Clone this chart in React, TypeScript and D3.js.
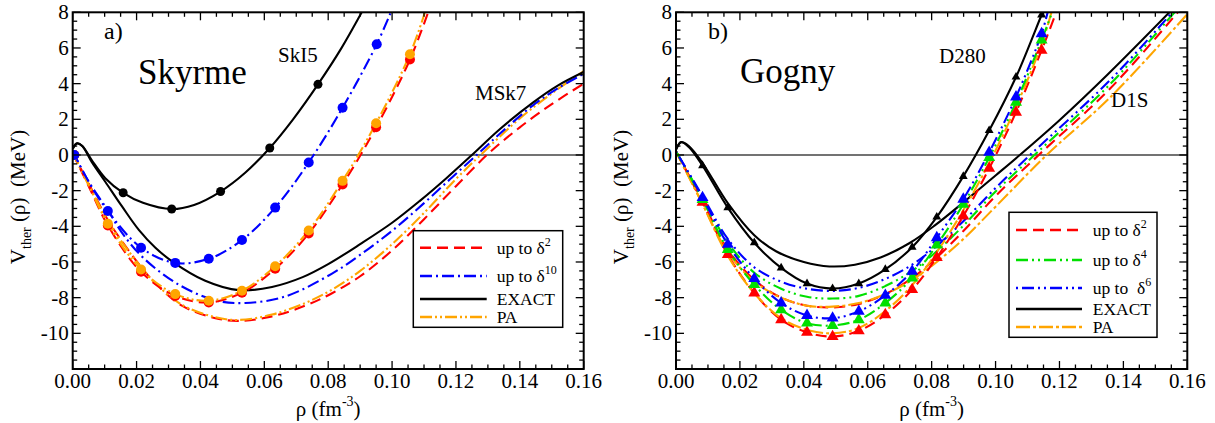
import React from "react";
import * as d3 from "d3";

type Pt = [number, number];

// ---------- Tick data ----------
const xMajorTicks = [0, 0.02, 0.04, 0.06, 0.08, 0.1, 0.12, 0.14, 0.16];
const xTickLabels = ["0.00", "0.02", "0.04", "0.06", "0.08", "0.10", "0.12", "0.14", "0.16"];
const yMajorTicks = [-10, -8, -6, -4, -2, 0, 2, 4, 6, 8];
const yTickLabels = ["-10", "-8", "-6", "-4", "-2", "0", "2", "4", "6", "8"];
const xDomain: [number, number] = [0, 0.16];
const yDomain: [number, number] = [-12, 8];

// ---------- Panel a) Skyrme ----------
// SkI5
const skI5Exact: Pt[] = [[0,0.35],[0.0013,0.65],[0.003,0.5],[0.006,-0.3],[0.0102,-1.3],[0.0158,-2.12],[0.022,-2.68],[0.031,-3.03],[0.038,-2.8],[0.0463,-2.05],[0.054,-1.0],[0.0617,0.39],[0.069,2.0],[0.0768,3.96],[0.084,5.95],[0.0905,8.0]];
const skI5ExactMarks: Pt[] = [[0.0158,-2.12],[0.031,-3.03],[0.0463,-2.05],[0.0617,0.39],[0.0768,3.96]];
const skI5D10: Pt[] = [[0,0.2],[0.005,-1.5],[0.011,-3.14],[0.0214,-5.2],[0.0321,-6.05],[0.0426,-5.82],[0.053,-4.77],[0.0634,-2.95],[0.0739,-0.42],[0.0845,2.65],[0.0952,6.21],[0.0996,8]];
const skI5D10Marks: Pt[] = [[0.0005,0],[0.011,-3.14],[0.0214,-5.2],[0.0321,-6.05],[0.0426,-5.82],[0.053,-4.77],[0.0634,-2.95],[0.0739,-0.42],[0.0845,2.65],[0.0952,6.21]];
const skI5D2: Pt[] = [[0,0.1],[0.005,-1.75],[0.011,-3.95],[0.0214,-6.55],[0.0321,-7.9],[0.0426,-8.27],[0.053,-7.72],[0.0634,-6.38],[0.0739,-4.4],[0.0845,-1.65],[0.095,1.55],[0.1056,5.35],[0.1113,8]];
const skI5D2Marks: Pt[] = [[0.0005,0],[0.011,-3.95],[0.0214,-6.55],[0.0321,-7.9],[0.0426,-8.27],[0.053,-7.72],[0.0634,-6.38],[0.0739,-4.4],[0.0845,-1.65],[0.095,1.55],[0.1056,5.35]];
const skI5PA: Pt[] = [[0,0.1],[0.005,-1.7],[0.011,-3.85],[0.0214,-6.42],[0.0321,-7.8],[0.0426,-8.17],[0.053,-7.61],[0.0634,-6.24],[0.0739,-4.23],[0.0845,-1.45],[0.095,1.78],[0.1056,5.65],[0.1103,8]];
const skI5PAMarks: Pt[] = [[0.0005,0],[0.011,-3.85],[0.0214,-6.42],[0.0321,-7.8],[0.0426,-8.17],[0.053,-7.61],[0.0634,-6.24],[0.0739,-4.23],[0.0845,-1.45],[0.095,1.78],[0.1056,5.65]];
// MSk7
const msk7Exact: Pt[] = [[0,0.35],[0.0015,0.66],[0.003,0.5],[0.006,-0.4],[0.0102,-1.5],[0.0155,-2.9],[0.0207,-4.2],[0.0259,-5.2],[0.0311,-5.96],[0.0415,-7.05],[0.052,-7.58],[0.0624,-7.4],[0.072,-6.85],[0.08,-6.12],[0.09,-5.0],[0.1,-3.8],[0.1087,-2.57],[0.117,-1.3],[0.125,0],[0.1338,1.46],[0.1442,2.95],[0.152,3.9],[0.16,4.65]];
const msk7D10: Pt[] = [[0,0.2],[0.005,-1.5],[0.011,-3.1],[0.0154,-4.35],[0.022,-5.75],[0.0332,-7.27],[0.0447,-8.15],[0.054,-8.3],[0.0666,-7.93],[0.0812,-6.65],[0.09,-5.6],[0.1,-4.25],[0.11,-2.7],[0.1185,-1.3],[0.1265,0],[0.1338,1.2],[0.1442,2.8],[0.152,3.75],[0.16,4.55]];
const msk7D2: Pt[] = [[0,0.1],[0.005,-1.6],[0.011,-3.65],[0.0155,-4.85],[0.0215,-6.3],[0.0259,-7.2],[0.0342,-8.45],[0.0447,-9.15],[0.052,-9.3],[0.0624,-9.05],[0.0728,-8.45],[0.0812,-7.75],[0.09,-6.8],[0.1,-5.35],[0.11,-3.6],[0.12,-1.75],[0.13,0.05],[0.14,1.55],[0.15,2.85],[0.16,4.0]];
const msk7PA: Pt[] = [[0,0.1],[0.005,-1.65],[0.011,-3.7],[0.0155,-4.9],[0.0215,-6.3],[0.0259,-7.2],[0.0342,-8.4],[0.0447,-9.1],[0.052,-9.25],[0.0624,-8.95],[0.0728,-8.3],[0.0812,-7.55],[0.09,-6.5],[0.1,-5.0],[0.11,-3.25],[0.12,-1.35],[0.128,0.05],[0.14,2.05],[0.15,3.45],[0.16,4.7]];

// ---------- Panel b) Gogny ----------
// D280
const d280Exact: Pt[] = [[0,0.3],[0.0016,0.71],[0.004,0.45],[0.0083,-0.6],[0.0162,-2.95],[0.0245,-4.92],[0.0329,-6.33],[0.041,-7.21],[0.049,-7.49],[0.0572,-7.21],[0.0655,-6.42],[0.0739,-5.17],[0.0816,-3.48],[0.0899,-1.2],[0.098,1.37],[0.1064,4.37],[0.1144,7.85],[0.1148,8]];
const d280ExactMarks: Pt[] = [[0.0083,-0.6],[0.0162,-2.95],[0.0245,-4.92],[0.0329,-6.33],[0.041,-7.21],[0.049,-7.49],[0.0572,-7.21],[0.0655,-6.42],[0.0739,-5.17],[0.0816,-3.48],[0.0899,-1.2],[0.098,1.37],[0.1064,4.37],[0.1144,7.85]];
const d280D2: Pt[] = [[0,0.2],[0.0083,-2.65],[0.0162,-5.58],[0.0245,-7.74],[0.0329,-9.24],[0.041,-9.94],[0.049,-10.18],[0.0572,-9.86],[0.0655,-8.96],[0.0739,-7.55],[0.0816,-5.75],[0.0899,-3.42],[0.098,-0.75],[0.1064,2.4],[0.1144,5.87],[0.119,8]];
const d280D4: Pt[] = [[0,0.2],[0.0083,-2.5],[0.0162,-5.3],[0.0245,-7.27],[0.0329,-8.68],[0.041,-9.43],[0.049,-9.56],[0.0572,-9.24],[0.0655,-8.3],[0.0739,-6.9],[0.0816,-5.05],[0.0899,-2.76],[0.098,-0.15],[0.1064,2.95],[0.1144,6.44],[0.1177,8]];
const d280D6: Pt[] = [[0,0.2],[0.0083,-2.39],[0.0162,-5.01],[0.0245,-6.93],[0.0329,-8.3],[0.041,-9.0],[0.049,-9.15],[0.0572,-8.77],[0.0655,-7.87],[0.0739,-6.52],[0.0816,-4.64],[0.0899,-2.48],[0.098,0.15],[0.1064,3.25],[0.1144,6.8],[0.1163,8]];
const d280PA: Pt[] = [[0,0.2],[0.0083,-2.75],[0.0162,-5.65],[0.0245,-7.75],[0.0329,-9.15],[0.041,-9.8],[0.049,-10.0],[0.0572,-9.7],[0.0655,-8.75],[0.0739,-7.3],[0.0816,-5.45],[0.0899,-3.1],[0.098,-0.45],[0.1064,2.7],[0.1144,6.2],[0.1175,8]];
// D1S
const d1sExact: Pt[] = [[0,0.3],[0.0016,0.72],[0.004,0.5],[0.0083,-0.45],[0.0162,-2.7],[0.0245,-4.5],[0.0313,-5.4],[0.04,-6.0],[0.048,-6.25],[0.056,-6.15],[0.064,-5.75],[0.073,-4.95],[0.081,-3.95],[0.09,-2.65],[0.1,-1.15],[0.1076,0],[0.12,1.95],[0.135,4.5],[0.1544,8]];
const d1sD6: Pt[] = [[0,0.2],[0.0083,-2.3],[0.0162,-4.7],[0.0245,-6.3],[0.0329,-7.1],[0.041,-7.5],[0.049,-7.62],[0.0572,-7.45],[0.0655,-6.95],[0.0739,-6.15],[0.0816,-5.1],[0.09,-3.7],[0.1,-1.85],[0.1108,0],[0.1358,4.19],[0.1553,8]];
const d1sD4: Pt[] = [[0,0.2],[0.0083,-2.4],[0.0162,-4.9],[0.0245,-6.6],[0.0329,-7.5],[0.041,-7.95],[0.049,-8.05],[0.0572,-7.9],[0.0655,-7.35],[0.0739,-6.5],[0.0816,-5.4],[0.09,-3.95],[0.1,-2.05],[0.1125,0.05],[0.136,4.0],[0.156,8]];
const d1sD2: Pt[] = [[0,0.2],[0.0083,-2.6],[0.0162,-5.3],[0.0245,-7.0],[0.0329,-8.0],[0.041,-8.45],[0.049,-8.55],[0.0572,-8.35],[0.0655,-7.8],[0.0739,-6.9],[0.0816,-5.75],[0.09,-4.25],[0.1,-2.3],[0.1135,0],[0.136,3.75],[0.157,8]];
const d1sPA: Pt[] = [[0,0.2],[0.0083,-2.75],[0.0162,-5.45],[0.0245,-7.1],[0.0329,-8.0],[0.041,-8.45],[0.049,-8.5],[0.0572,-8.3],[0.0655,-7.8],[0.0739,-7.0],[0.0816,-6.0],[0.09,-4.7],[0.1,-2.9],[0.116,0],[0.136,3.25],[0.16,7.9]];

// ---------- styles ----------
const RED = "#ff0000", BLUE = "#0000ff", GREEN = "#00e000", ORANGE = "#ffa500", BLACK = "#000000";
const DASH_RED = "11,6";
const DASH_BLUE_A = "12,4,2,4";
const DASH_ORANGE_A = "12,3,2,3,2,3";
const DASH_GREEN = "12,4,2,4,2,4";
const DASH_BLUE_B = "2,4,12,4,2,4";
const DASH_ORANGE_B = "14,3,3,3";

type Series = { data: Pt[]; color: string; dash?: string; marks?: Pt[]; marker?: "circle" | "tri"; msize?: number };

const seriesA: Series[] = [
  { data: msk7D2, color: RED, dash: DASH_RED },
  { data: msk7PA, color: ORANGE, dash: DASH_ORANGE_A },
  { data: msk7D10, color: BLUE, dash: DASH_BLUE_A },
  { data: msk7Exact, color: BLACK },
  { data: skI5D2, color: RED, dash: DASH_RED, marks: skI5D2Marks, marker: "circle", msize: 5 },
  { data: skI5PA, color: ORANGE, dash: DASH_ORANGE_A, marks: skI5PAMarks, marker: "circle", msize: 5 },
  { data: skI5D10, color: BLUE, dash: DASH_BLUE_A, marks: skI5D10Marks, marker: "circle", msize: 5 },
  { data: skI5Exact, color: BLACK, marks: skI5ExactMarks, marker: "circle", msize: 4.5 },
];

const seriesB: Series[] = [
  { data: d1sD2, color: RED, dash: DASH_RED },
  { data: d1sPA, color: ORANGE, dash: DASH_ORANGE_B },
  { data: d1sD4, color: GREEN, dash: DASH_GREEN },
  { data: d1sD6, color: BLUE, dash: DASH_BLUE_B },
  { data: d1sExact, color: BLACK },
  { data: d280D2, color: RED, dash: DASH_RED, marks: d280D2.slice(1, 15), marker: "tri", msize: 62 },
  { data: d280PA, color: ORANGE, dash: DASH_ORANGE_B },
  { data: d280D4, color: GREEN, dash: DASH_GREEN, marks: d280D4.slice(1, 15), marker: "tri", msize: 62 },
  { data: d280D6, color: BLUE, dash: DASH_BLUE_B, marks: d280D6.slice(1, 15), marker: "tri", msize: 62 },
  { data: d280Exact, color: BLACK, marks: d280ExactMarks, marker: "tri", msize: 34 },
];

const FONT = "Liberation Serif, Times New Roman, serif";
const Y_TOP = 12.3, Y_BOT = 369;

type LegendItem = { label: string; sup?: string; color: string; dash?: string };
const legendA: LegendItem[] = [
  { label: "up to δ", sup: "2", color: RED, dash: DASH_RED },
  { label: "up to δ", sup: "10", color: BLUE, dash: DASH_BLUE_A },
  { label: "EXACT", color: BLACK },
  { label: "PA", color: ORANGE, dash: DASH_ORANGE_A },
];
const legendB: LegendItem[] = [
  { label: "up to δ", sup: "2", color: RED, dash: DASH_RED },
  { label: "up to δ", sup: "4", color: GREEN, dash: DASH_GREEN },
  { label: "up to  δ", sup: "6", color: BLUE, dash: DASH_BLUE_B },
  { label: "EXACT", color: BLACK },
  { label: "PA", color: ORANGE, dash: DASH_ORANGE_B },
];

type Note = { text: string; x: number; y: number; size: number };

function Panel(props: {
  id: string; x0: number; x1: number; series: Series[];
  legend: LegendItem[]; legendBox: { x: number; y: number; w: number; h: number; rows: number[]; lx0: number; lx1: number; tx: number };
  notes: Note[]; ylabX: number;
}) {
  const { id, x0, x1, series, legend, legendBox, notes, ylabX } = props;
  const xs = d3.scaleLinear().domain(xDomain).range([x0, x1]);
  const ys = d3.scaleLinear().domain(yDomain).range([Y_BOT, Y_TOP]);
  const line = d3.line<Pt>().x((d) => xs(d[0])).y((d) => ys(d[1])).curve(d3.curveCatmullRom.alpha(0.5));
  const xMinor = d3.range(0, 0.16 + 1e-9, 0.005);
  const yMinor = d3.range(-12, 8 + 1e-9, 0.5);
  const tri = d3.symbol().type(d3.symbolTriangle);
  const fs = 21;
  const cx = (x0 + x1) / 2;
  return (
    <g>
      <defs>
        <clipPath id={id}>
          <rect x={x0} y={Y_TOP} width={x1 - x0} height={Y_BOT - Y_TOP} />
        </clipPath>
      </defs>
      <line x1={x0} x2={x1} y1={ys(0)} y2={ys(0)} stroke="#444" strokeWidth={1.3} />
      <g clipPath={`url(#${id})`}>
        {series.map((s, i) => (
          <path key={i} d={line(s.data) || ""} fill="none" stroke={s.color} strokeWidth={2.1} strokeDasharray={s.dash} />
        ))}
        {series.map((s, i) =>
          (s.marks || []).map((m, j) =>
            s.marker === "circle" ? (
              <circle key={`${i}-${j}`} cx={xs(m[0])} cy={ys(m[1])} r={s.msize} fill={s.color} />
            ) : (
              <path key={`${i}-${j}`} d={tri.size(s.msize || 40)() || ""} transform={`translate(${xs(m[0])},${ys(m[1])})`} fill={s.color} />
            )
          )
        )}
      </g>
      {xMinor.map((v, i) => {
        const major = Math.abs(v / 0.02 - Math.round(v / 0.02)) < 1e-6;
        const len = major ? 8 : 4.5;
        return (
          <g key={"xt" + i}>
            <line x1={xs(v)} x2={xs(v)} y1={Y_BOT} y2={Y_BOT - len} stroke="#000" strokeWidth={1.3} />
            <line x1={xs(v)} x2={xs(v)} y1={Y_TOP} y2={Y_TOP + len} stroke="#000" strokeWidth={1.3} />
          </g>
        );
      })}
      {yMinor.map((v, i) => {
        const major = Math.abs(v / 2 - Math.round(v / 2)) < 1e-6;
        const len = major ? 8 : 4.5;
        return (
          <g key={"yt" + i}>
            <line x1={x0} x2={x0 + len} y1={ys(v)} y2={ys(v)} stroke="#000" strokeWidth={1.3} />
            <line x1={x1} x2={x1 - len} y1={ys(v)} y2={ys(v)} stroke="#000" strokeWidth={1.3} />
          </g>
        );
      })}
      <rect x={x0} y={Y_TOP} width={x1 - x0} height={Y_BOT - Y_TOP} fill="none" stroke="#000" strokeWidth={2} />
      {xMajorTicks.map((v, i) => (
        <text key={"xl" + i} x={xs(v)} y={388} textAnchor="middle" fontSize={fs} fontFamily={FONT}>{xTickLabels[i]}</text>
      ))}
      {yMajorTicks.map((v, i) => (
        <text key={"yl" + i} x={x0 - 4} y={ys(v) + 7} textAnchor="end" fontSize={fs} fontFamily={FONT}>{yTickLabels[i]}</text>
      ))}
      <text x={cx} y={416} textAnchor="middle" fontSize={21} fontFamily={FONT} style={{ whiteSpace: "pre" }}>
        ρ (fm<tspan dy={-10} fontSize={14}>-3</tspan><tspan dy={10}>)</tspan>
      </text>
      <text transform={`translate(${ylabX},197) rotate(-90)`} textAnchor="middle" fontSize={21} fontFamily={FONT} style={{ whiteSpace: "pre" }}>
        V<tspan dy={6} fontSize={14}>ther</tspan><tspan dy={-6}> (ρ)  (MeV)</tspan>
      </text>
      {notes.map((n, i) => (
        <text key={"n" + i} x={n.x} y={n.y} fontSize={n.size} fontFamily={FONT}>{n.text}</text>
      ))}
      <rect x={legendBox.x} y={legendBox.y} width={legendBox.w} height={legendBox.h} fill="#fff" stroke="#000" strokeWidth={1.5} />
      {legend.map((it, i) => (
        <g key={"lg" + i}>
          <line x1={legendBox.lx0} x2={legendBox.lx1} y1={legendBox.rows[i]} y2={legendBox.rows[i]} stroke={it.color} strokeWidth={2.6} strokeDasharray={it.dash} />
          <text x={legendBox.tx} y={legendBox.rows[i] + 6} fontSize={17.5} fontFamily={FONT} style={{ whiteSpace: "pre" }}>
            {it.label}
            {it.sup ? <tspan dy={-8} fontSize={12}>{it.sup}</tspan> : null}
          </text>
        </g>
      ))}
    </g>
  );
}

export default function App() {
  return (
    <svg width={1215} height={423} style={{ position: "absolute", left: 0, top: 0, background: "#fff" }}>
      <rect x={0} y={0} width={1215} height={423} fill="#fff" />
      <Panel
        id="clipA" x0={72.7} x1={583.7} series={seriesA} legend={legendA}
        legendBox={{ x: 413.3, y: 230.7, w: 149.4, h: 96.6, rows: [247.7, 276, 299, 317], lx0: 420, lx1: 486.7, tx: 496.7 }}
        notes={[
          { text: "a)", x: 104, y: 39, size: 24 },
          { text: "Skyrme", x: 138, y: 84, size: 35 },
          { text: "SkI5", x: 278, y: 62, size: 21 },
          { text: "MSk7", x: 475, y: 100, size: 21 },
        ]}
        ylabX={25}
      />
      <Panel
        id="clipB" x0={676} x1={1187.3} series={seriesB} legend={legendB}
        legendBox={{ x: 1009, y: 212.3, w: 148, h: 125, rows: [230, 260, 288, 309, 327], lx0: 1016, lx1: 1082, tx: 1092.7 }}
        notes={[
          { text: "b)", x: 708, y: 39, size: 24 },
          { text: "Gogny", x: 740, y: 83, size: 35 },
          { text: "D280", x: 939, y: 63, size: 21 },
          { text: "D1S", x: 1111, y: 107, size: 21 },
        ]}
        ylabX={628}
      />
    </svg>
  );
}
